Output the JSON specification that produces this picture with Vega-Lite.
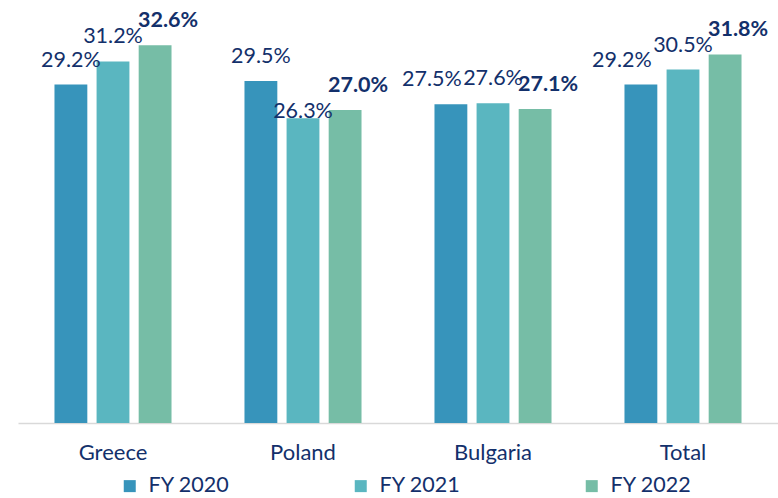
{
  "$schema": "https://vega.github.io/schema/vega-lite/v6.json",
  "width": 760,
  "height": 423,
  "autosize": {"type": "none"},
  "padding": {"left": 18, "top": 0, "right": 0, "bottom": 75},
  "background": "white",
  "config": {
    "view": {"stroke": null},
    "font": "Lato",
    "text": {"font": "Lato", "fontSize": 21.5, "color": "#13306B"}
  },
  "data": {
    "values": [
      {"country": "Greece", "year": "FY 2020", "value": 0.292},
      {"country": "Greece", "year": "FY 2021", "value": 0.312},
      {"country": "Greece", "year": "FY 2022", "value": 0.326},
      {"country": "Poland", "year": "FY 2020", "value": 0.295},
      {"country": "Poland", "year": "FY 2021", "value": 0.263},
      {"country": "Poland", "year": "FY 2022", "value": 0.270},
      {"country": "Bulgaria", "year": "FY 2020", "value": 0.275},
      {"country": "Bulgaria", "year": "FY 2021", "value": 0.276},
      {"country": "Bulgaria", "year": "FY 2022", "value": 0.271},
      {"country": "Total", "year": "FY 2020", "value": 0.292},
      {"country": "Total", "year": "FY 2021", "value": 0.305},
      {"country": "Total", "year": "FY 2022", "value": 0.318}
    ]
  },
  "encoding": {
    "x": {
      "field": "country", "type": "nominal", "sort": ["Greece", "Poland", "Bulgaria", "Total"],
      "scale": {"paddingInner": 0.384, "paddingOuter": 0.192},
      "axis": {"title": null, "labelAngle": 0, "ticks": false, "domainColor": "#D9D9D9", "domainWidth": 1.5,
               "labelFont": "Lato", "labelFontSize": 22, "labelColor": "#13306B", "labelPadding": 19}
    },
    "xOffset": {"field": "year", "type": "nominal", "scale": {"paddingInner": 0.22, "paddingOuter": 0}},
    "y": {"field": "value", "type": "quantitative", "scale": {"domain": [0, 0.365], "nice": false}, "axis": null}
  },
  "layer": [
    {
      "mark": {"type": "bar"},
      "encoding": {
        "color": {
          "field": "year", "type": "nominal",
          "scale": {"domain": ["FY 2020", "FY 2021", "FY 2022"], "range": ["#3794BB", "#5AB6C0", "#76BDA6"]},
          "legend": {"title": null, "orient": "none", "legendX": 101, "legendY": 475, "direction": "horizontal", "symbolType": "square",
                     "symbolSize": 144, "symbolStrokeWidth": 0, "labelFont": "Lato", "labelFontSize": 21.5,
                     "labelColor": "#13306B", "columnPadding": 120, "labelOffset": 8}
        }
      }
    },
    {
      "transform": [{"filter": "datum.year == 'FY 2020' && (datum.country == 'Greece' || datum.country == 'Poland') || datum.year == 'FY 2021' && datum.country != 'Poland'"}],
      "mark": {"type": "text", "dy": -18, "baseline": "alphabetic"},
      "encoding": {"text": {"field": "value", "type": "quantitative", "format": ".1%"}}
    },
    {
      "transform": [{"filter": "datum.year == 'FY 2020' && (datum.country == 'Bulgaria' || datum.country == 'Total')"}],
      "mark": {"type": "text", "dy": -18, "dx": -19, "baseline": "alphabetic"},
      "encoding": {"text": {"field": "value", "type": "quantitative", "format": ".1%"}}
    },
    {
      "transform": [{"filter": "datum.year == 'FY 2021' && datum.country == 'Poland'"}],
      "mark": {"type": "text", "dy": 0, "baseline": "alphabetic"},
      "encoding": {"text": {"field": "value", "type": "quantitative", "format": ".1%"}}
    },
    {
      "transform": [{"filter": "datum.year == 'FY 2022'"}],
      "mark": {"type": "text", "dy": -18, "dx": 13, "baseline": "alphabetic", "fontWeight": "bold"},
      "encoding": {"text": {"field": "value", "type": "quantitative", "format": ".1%"}}
    }
  ]
}
